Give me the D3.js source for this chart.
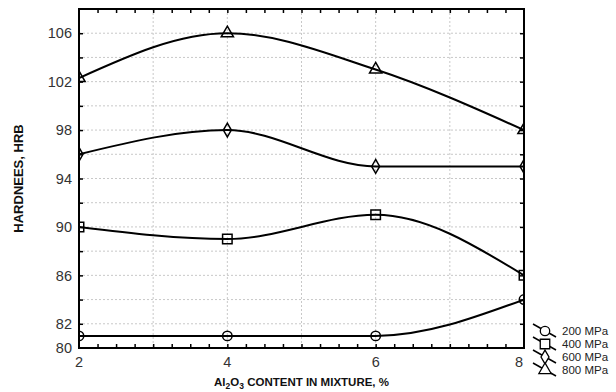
<!DOCTYPE html>
<html>
<head>
<meta charset="utf-8">
<script src="https://cdn.jsdelivr.net/npm/d3@7"></script>
<style>
  body { margin: 0; background: #fff; }
  svg { display: block; font-family: "Liberation Sans", Arial, sans-serif; }
  .grid line { stroke: #c8c8c8; stroke-dasharray: 2 2; stroke-width: 1; }
  .tick-label { font-size: 14.5px; fill: #333; }
</style>
</head>
<body>
<svg width="616" height="392"></svg>
<script>
// chart data
const contents = [ 2, 4, 6, 8 ];
const seriesNames = [ '200 MPa', '400 MPa', '600 MPa', '800 MPa' ];
const hardness200 = [ 81, 81, 81, 84 ];
const hardness400 = [ 90, 89, 91, 86 ];
const hardness600 = [ 96, 98, 95, 95 ];
const hardness800 = [ 102.3, 106, 103, 98 ];
const xTickLabels = [ 2, 4, 6, 8 ];
const yTickLabels = [ 80, 82, 86, 90, 94, 98, 102, 106 ];

const margin = { left: 79, right: 92, top: 9, bottom: 44 };
const width = 616, height = 392;
const innerWidth = width - margin.left - margin.right;
const innerHeight = height - margin.top - margin.bottom;

const svg = d3.select( 'svg' );
const plotGroup = svg.append( 'g' )
    .attr( 'transform', `translate(${margin.left},${margin.top})` );

const xScale = d3.scaleLinear().domain( [ 2, 8 ] ).range( [ 0, innerWidth ] );
const yScale = d3.scaleLinear().domain( [ 80, 108 ] ).range( [ innerHeight, 0 ] );

// grid
const grid = plotGroup.append( 'g' ).attr( 'class', 'grid' );
grid.selectAll( '.gx' ).data( d3.range( 3, 8, 1 ) )
    .enter().append( 'line' )
    .attr( 'x1', d => xScale( d ) ).attr( 'x2', d => xScale( d ) )
    .attr( 'y1', 0 ).attr( 'y2', innerHeight );
grid.selectAll( '.gy' ).data( d3.range( 82, 108, 2 ) )
    .enter().append( 'line' )
    .attr( 'x1', 0 ).attr( 'x2', innerWidth )
    .attr( 'y1', d => yScale( d ) ).attr( 'y2', d => yScale( d ) );

// axes with inward ticks
const xMinor = d3.range( 2.25, 8, 0.25 );
const yMinor = d3.range( 82, 108, 2 );
plotGroup.append( 'g' )
    .attr( 'transform', `translate(0,${innerHeight})` )
    .call( d3.axisBottom( xScale ).tickValues( xMinor ).tickSize( -4 ).tickFormat( '' ) );
plotGroup.append( 'g' )
    .call( d3.axisTop( xScale ).tickValues( xMinor ).tickSize( -4 ).tickFormat( '' ) );
plotGroup.append( 'g' )
    .call( d3.axisLeft( yScale ).tickValues( yMinor ).tickSize( -4 ).tickFormat( '' ) );
plotGroup.append( 'g' )
    .attr( 'transform', `translate(${innerWidth},0)` )
    .call( d3.axisRight( yScale ).tickValues( yMinor ).tickSize( -4 ).tickFormat( '' ) );
plotGroup.selectAll( '.domain' ).remove();
plotGroup.selectAll( '.tick line' ).attr( 'stroke', '#000' ).attr( 'stroke-width', 1.5 );

// tick labels
plotGroup.selectAll( '.xlabel' ).data( xTickLabels )
    .enter().append( 'text' )
    .attr( 'class', 'tick-label' )
    .attr( 'x', d => xScale( d ) - ( d === 8 ? 5 : 0 ) )
    .attr( 'y', innerHeight + 19 )
    .attr( 'text-anchor', 'middle' )
    .text( d => d );
plotGroup.selectAll( '.ylabel' ).data( yTickLabels )
    .enter().append( 'text' )
    .attr( 'class', 'tick-label' )
    .attr( 'x', -7 )
    .attr( 'y', d => yScale( d ) )
    .attr( 'dy', '0.36em' )
    .attr( 'text-anchor', 'end' )
    .text( d => d );

// clip
svg.append( 'defs' ).append( 'clipPath' ).attr( 'id', 'plot-clip' )
    .append( 'rect' ).attr( 'width', innerWidth ).attr( 'height', innerHeight );

const series = [ hardness200, hardness400, hardness600, hardness800 ];
const symbols = [ d3.symbolCircle, d3.symbolSquare, d3.symbolDiamond, d3.symbolTriangle ];
const symbolSizes = [ 70, 90, 55, 65 ];

const line = d3.line()
    .x( ( d, i ) => xScale( contents[ i ] ) )
    .y( d => yScale( d ) )
    .curve( d3.curveMonotoneX );

const drawGroup = plotGroup.append( 'g' ).attr( 'clip-path', 'url(#plot-clip)' );
series.forEach( ( values, s ) => {
    drawGroup.append( 'path' )
        .attr( 'd', line( values ) )
        .attr( 'fill', 'none' )
        .attr( 'stroke', '#000' )
        .attr( 'stroke-width', 2 );
    drawGroup.selectAll( `.m${s}` ).data( values )
        .enter().append( 'path' )
        .attr( 'transform', ( d, i ) => `translate(${xScale( contents[ i ] )},${yScale( d )})` )
        .attr( 'd', d3.symbol().type( symbols[ s ] ).size( symbolSizes[ s ] ) )
        .attr( 'fill', 'none' )
        .attr( 'stroke', '#000' )
        .attr( 'stroke-width', 1.5 );
} );

// frame
plotGroup.append( 'rect' )
    .attr( 'width', innerWidth ).attr( 'height', innerHeight )
    .attr( 'fill', 'none' ).attr( 'stroke', '#000' ).attr( 'stroke-width', 2 );

// axis titles
const xTitle = svg.append( 'text' )
    .attr( 'x', margin.left + innerWidth / 2 )
    .attr( 'y', 386 )
    .attr( 'text-anchor', 'middle' )
    .attr( 'font-size', 11.5 )
    .attr( 'font-weight', 'bold' )
    .attr( 'fill', '#111' );
xTitle.append( 'tspan' ).text( 'Al' );
xTitle.append( 'tspan' ).attr( 'font-size', 8.5 ).attr( 'dy', 2.5 ).text( '2' );
xTitle.append( 'tspan' ).attr( 'dy', -2.5 ).text( 'O' );
xTitle.append( 'tspan' ).attr( 'font-size', 8.5 ).attr( 'dy', 2.5 ).text( '3' );
xTitle.append( 'tspan' ).attr( 'dy', -2.5 ).text( ' CONTENT IN MIXTURE, %' );

svg.append( 'text' )
    .attr( 'transform', `translate(23,${margin.top + innerHeight / 2}) rotate(-90)` )
    .attr( 'text-anchor', 'middle' )
    .attr( 'font-size', 13 )
    .attr( 'font-weight', 'bold' )
    .attr( 'fill', '#111' )
    .text( 'HARDNEES, HRB' );

// legend
const legend = svg.append( 'g' ).attr( 'transform', 'translate(545,331)' );
seriesNames.forEach( ( name, s ) => {
    const item = legend.append( 'g' ).attr( 'transform', `translate(0,${s * 13})` );
    item.append( 'line' )
        .attr( 'x1', -12 ).attr( 'y1', -7 ).attr( 'x2', 11 ).attr( 'y2', 6 )
        .attr( 'stroke', '#000' ).attr( 'stroke-width', 1.5 );
    item.append( 'path' )
        .attr( 'd', d3.symbol().type( symbols[ s ] ).size( symbolSizes[ s ] ) )
        .attr( 'fill', '#fff' )
        .attr( 'stroke', '#000' )
        .attr( 'stroke-width', 1.3 );
    item.append( 'text' )
        .attr( 'x', 17 ).attr( 'dy', '0.36em' )
        .attr( 'font-size', 11.5 )
        .attr( 'fill', '#222' )
        .text( name );
} );
</script>
</body>
</html>
